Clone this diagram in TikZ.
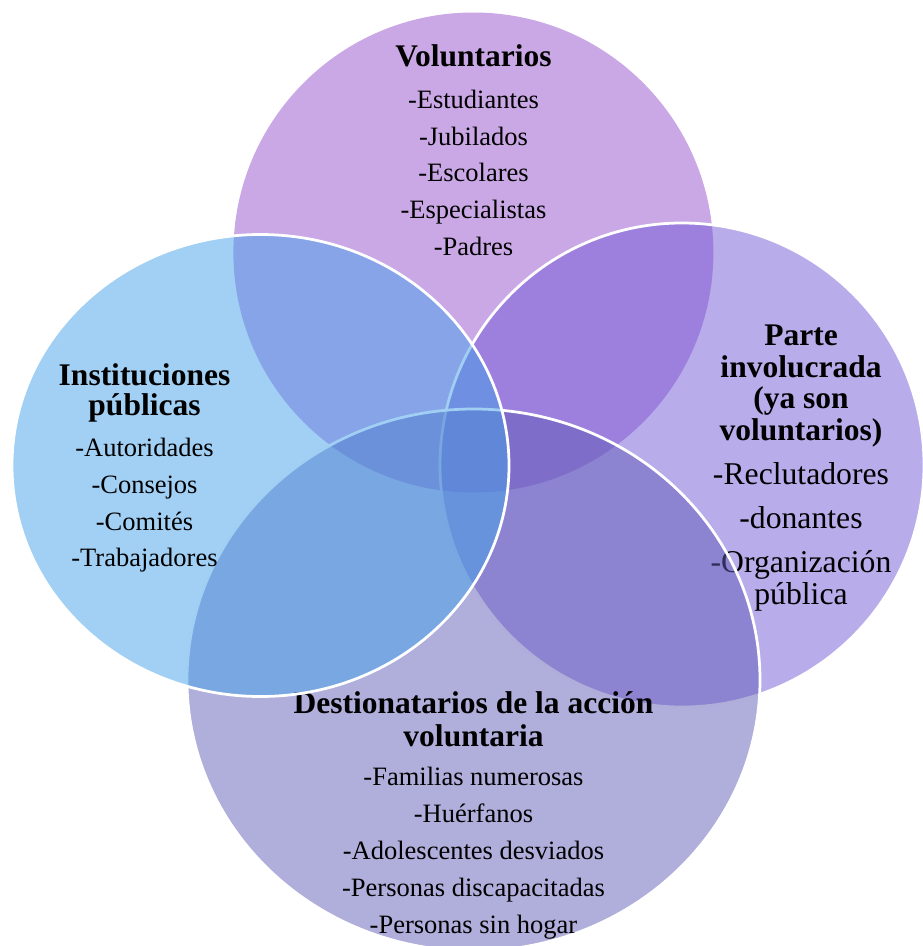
\documentclass[tikz,border=0pt]{standalone}
\usepackage{fontspec}
\setmainfont{Liberation Serif}
\usetikzlibrary{shapes.geometric}
\definecolor{cTop}{RGB}{149,81,205}
\definecolor{cRight}{RGB}{113,89,213}
\definecolor{cBottom}{RGB}{97,93,183}
\definecolor{cLeft}{RGB}{67,161,233}
\begin{document}
\begin{tikzpicture}[x=1pt,y=-1pt,
  venn/.style={ellipse, inner sep=0pt, fill opacity=0.5, draw=white, line width=2.75pt},
  ttl/.style={anchor=base, inner sep=0pt, font=\bfseries\fontsize{31.5}{31.5}\selectfont},
  itm/.style={anchor=base, inner sep=0pt, font=\fontsize{26.5}{26.5}\selectfont},
  itmr/.style={anchor=base, inner sep=0pt, font=\fontsize{31.7}{31.7}\selectfont}]
\useasboundingbox (0,0) rectangle (923,946);
% top circle
\node[venn, draw=none, fill=cTop, minimum width=480pt, minimum height=480pt] (vol) at (473.4,252.5) {};
\node[ttl] (vt) at (473.5,66.7) {Voluntarios};
\node[itm] (v1) at (473.5,108.3) {-Estudiantes};
\node[itm] (v2) at (473.5,145) {-Jubilados};
\node[itm] (v3) at (473.5,181.7) {-Escolares};
\node[itm] (v4) at (473.5,218.3) {-Especialistas};
\node[itm] (v5) at (473.5,255) {-Padres};
% right ellipse
\node[venn, fill=cRight, minimum width=484pt, minimum height=484pt] (par) at (682,465) {};
\node[ttl] (pt1) at (801,345) {Parte};
\node[ttl] (pt2) at (801,377) {involucrada};
\node[ttl] (pt3) at (801,408.5) {(ya son};
\node[ttl] (pt4) at (801,440) {voluntarios)};
\node[itmr] (p1) at (801,484) {-Reclutadores};
\node[itmr] (p2) at (801,528) {-donantes};
\node[itmr] (p3) at (801,572.5) {-Organización};
\node[itmr] (p4) at (801,604) {pública};
% bottom ellipse
\node[venn, fill=cBottom, minimum width=573pt, minimum height=542pt] (des) at (473.5,680) {};
\node[ttl] (dt1) at (473.5,713.3) {Destionatarios de la acción};
\node[ttl] (dt2) at (473.5,746) {voluntaria};
\node[itm] (d1) at (473.5,785.7) {-Familias numerosas};
\node[itm] (d2) at (473.5,822.6) {-Huérfanos};
\node[itm] (d3) at (473.5,859.5) {-Adolescentes desviados};
\node[itm] (d4) at (473.5,896.4) {-Personas discapacitadas};
\node[itm] (d5) at (473.5,933.3) {-Personas sin hogar};
% left ellipse
\node[venn, fill=cLeft, minimum width=497pt, minimum height=462pt] (ins) at (260.5,465.5) {};
\node[ttl] (it1) at (144.5,385) {Instituciones};
\node[ttl] (it2) at (144.5,415.5) {públicas};
\node[itm] (i1) at (144.5,456.7) {-Autoridades};
\node[itm] (i2) at (144.5,493.4) {-Consejos};
\node[itm] (i3) at (144.5,530) {-Comités};
\node[itm] (i4) at (144.5,566.7) {-Trabajadores};
\end{tikzpicture}
\end{document}
